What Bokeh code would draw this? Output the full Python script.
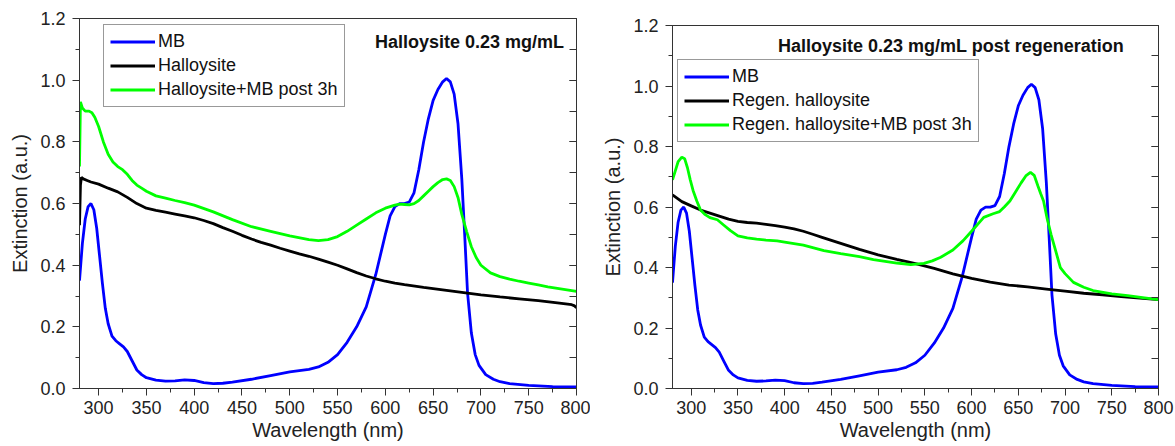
from bokeh.plotting import figure
from bokeh.layouts import row, column
from bokeh.models import (Legend, LegendItem, LinearAxis, SingleIntervalTicker,
                          NumeralTickFormatter, Label, Range1d, Spacer)
from bokeh.embed import file_html
from bokeh.resources import INLINE

FONT = "Liberation Sans"

# ---------------- data ----------------
mb_wl = [280, 283, 286, 289, 292, 295, 298, 301, 304, 307, 310, 314, 318, 322, 326,
         330, 335, 340, 345, 350, 360, 370, 380, 390, 400, 410, 420, 430, 440, 460,
         480, 500, 520, 530, 540, 550, 560, 570, 580, 590, 600, 605, 610, 615, 620,
         625, 630, 635, 640, 645, 650, 655, 660, 664, 668, 672, 676, 680, 683, 686,
         690, 694, 698, 705, 713, 720, 730, 750, 775, 800]
mb_ext = [0.35, 0.47, 0.55, 0.59, 0.60, 0.58, 0.52, 0.43, 0.34, 0.26, 0.21, 0.17, 0.155,
          0.145, 0.135, 0.12, 0.09, 0.06, 0.045, 0.035, 0.027, 0.024, 0.025, 0.028, 0.026,
          0.019, 0.016, 0.017, 0.021, 0.03, 0.042, 0.054, 0.062, 0.07, 0.085, 0.11, 0.15,
          0.2, 0.265, 0.37, 0.5, 0.56, 0.59, 0.6, 0.6, 0.605, 0.635, 0.71, 0.8, 0.875,
          0.935, 0.97, 0.995, 1.006, 0.995, 0.955, 0.86, 0.68, 0.5, 0.31, 0.18, 0.11,
          0.075, 0.045, 0.03, 0.022, 0.016, 0.01, 0.006, 0.005]

hal_wl = [280, 281, 282, 284, 288, 292, 300, 310, 320, 330, 340, 350, 360, 370, 380,
          390, 400, 410, 420, 430, 440, 450, 460, 470, 480, 490, 500, 510, 520, 530,
          540, 550, 560, 570, 580, 590, 600, 610, 620, 640, 660, 680, 700, 720, 740,
          760, 780, 795, 798, 800]
hal_ext = [0.53, 0.66, 0.685, 0.68, 0.675, 0.67, 0.663, 0.65, 0.638, 0.62, 0.6, 0.585,
           0.578, 0.572, 0.566, 0.56, 0.554, 0.545, 0.535, 0.522, 0.51, 0.497, 0.485,
           0.474, 0.465, 0.455, 0.446, 0.437, 0.429, 0.42, 0.41, 0.4, 0.388, 0.376,
           0.365, 0.356, 0.348, 0.342, 0.337, 0.328, 0.32, 0.312, 0.304, 0.297, 0.291,
           0.285, 0.278, 0.272, 0.268, 0.262]

halmb_wl = [280, 281, 283, 286, 290, 293, 296, 300, 305, 310, 315, 320, 325, 330, 335,
            340, 345, 350, 360, 370, 380, 390, 400, 420, 440, 460, 480, 500, 520, 530,
            540, 550, 560, 570, 580, 590, 600, 610, 615, 620, 625, 630, 635, 640, 645,
            650, 655, 660, 664, 668, 672, 676, 680, 685, 690, 695, 700, 710, 720, 730,
            740, 750, 760, 770, 780, 790, 800]
halmb_ext = [0.72, 0.93, 0.91, 0.90, 0.90, 0.895, 0.88, 0.85, 0.80, 0.76, 0.735, 0.72,
             0.71, 0.695, 0.675, 0.66, 0.65, 0.64, 0.625, 0.618, 0.61, 0.603, 0.595,
             0.573, 0.548, 0.525, 0.51, 0.495, 0.483, 0.48, 0.483, 0.493, 0.51, 0.53,
             0.55, 0.57, 0.585, 0.595, 0.598, 0.597, 0.596, 0.6, 0.61, 0.625, 0.64,
             0.655, 0.668, 0.678, 0.68, 0.675, 0.655, 0.62, 0.565, 0.51, 0.46, 0.425,
             0.40, 0.375, 0.363, 0.355, 0.348, 0.342, 0.336, 0.33, 0.325, 0.32, 0.315]

reg_wl = [280, 290, 300, 310, 320, 330, 340, 350, 360, 370, 380, 390, 400, 410, 420,
          430, 440, 450, 460, 470, 480, 490, 500, 520, 540, 560, 580, 600, 620, 640,
          660, 680, 700, 720, 740, 760, 780, 800]
reg_ext = [0.64, 0.618, 0.604, 0.59, 0.58, 0.57, 0.56, 0.553, 0.549, 0.547, 0.543,
           0.539, 0.534, 0.528, 0.52, 0.51, 0.5, 0.49, 0.48, 0.47, 0.46, 0.451, 0.442,
           0.427, 0.413, 0.397, 0.379, 0.364, 0.352, 0.342, 0.336, 0.329, 0.322, 0.315,
           0.31, 0.304, 0.299, 0.294]

regmb_wl = [280, 283, 286, 290, 293, 296, 299, 302, 306, 310, 315, 320, 328, 335, 342,
            350, 360, 370, 380, 392, 400, 420, 442, 460, 480, 495, 520, 535, 549, 558,
            567, 580, 591, 600, 610, 613, 623, 630, 635, 641, 647, 653, 658, 663, 667,
            671, 674, 677, 681, 685, 690, 695, 700, 709, 720, 730, 750, 767, 785, 800]
regmb_ext = [0.69, 0.72, 0.75, 0.765, 0.76, 0.73, 0.69, 0.655, 0.62, 0.59, 0.575, 0.565,
             0.558, 0.54, 0.522, 0.505, 0.498, 0.494, 0.491, 0.488, 0.484, 0.474, 0.456,
             0.446, 0.436, 0.426, 0.415, 0.41, 0.414, 0.422, 0.434, 0.458, 0.489, 0.52,
             0.555, 0.566, 0.578, 0.585, 0.6, 0.62, 0.65, 0.68, 0.703, 0.715, 0.705,
             0.67, 0.644, 0.62, 0.56, 0.51, 0.455, 0.40, 0.38, 0.351, 0.335, 0.324,
             0.313, 0.307, 0.3, 0.294]

x_label = "Wavelength (nm)"
y_label = "Extinction (a.u.)"
left_title = "Halloysite 0.23 mg/mL"
right_title = "Halloysite 0.23 mg/mL post regeneration"
left_names = ["MB", "Halloysite", "Halloysite+MB post 3h"]
right_names = ["MB", "Regen. halloysite", "Regen. halloysite+MB post 3h"]

BLUE = "#0000ff"
BLACK = "#000000"
GREEN = "#00ff00"
AX = "#333333"


def make_panel(width, height, bl, br, bt, bb, series, names, title, tx, ty, loc):
    p = figure(width=width, height=height, output_backend="svg", toolbar_location=None,
               x_range=Range1d(280, 800), y_range=Range1d(0, 1.2005),
               min_border_left=bl, min_border_right=br, min_border_top=bt,
               min_border_bottom=bb)
    p.grid.visible = False
    p.outline_line_color = AX
    p.outline_line_width = 1

    xa = p.xaxis[0]
    xa.ticker = SingleIntervalTicker(interval=50, num_minor_ticks=2)
    ya = p.yaxis[0]
    ya.ticker = SingleIntervalTicker(interval=0.2, num_minor_ticks=2)
    ya.formatter = NumeralTickFormatter(format="0.0")
    for ax in (xa, ya):
        ax.axis_line_color = AX
        ax.major_tick_line_color = AX
        ax.minor_tick_line_color = AX
        ax.major_tick_out = 7
        ax.major_tick_in = 0
        ax.minor_tick_out = 4
        ax.minor_tick_in = 0
        ax.major_label_text_font = FONT
        ax.major_label_text_font_size = "18px"
        ax.major_label_text_color = "#222222"
        ax.axis_label_text_font = FONT
        ax.axis_label_text_font_size = "20px"
        ax.axis_label_text_font_style = "normal"
        ax.axis_label_text_color = "#222222"
    xa.axis_label = x_label
    ya.axis_label = y_label
    xa.major_label_standoff = 5
    xa.axis_label_standoff = 2
    ya.major_label_standoff = 7
    ya.axis_label_standoff = 6

    ra = LinearAxis(ticker=SingleIntervalTicker(interval=0.2, num_minor_ticks=2),
                    major_label_text_font_size="1px", major_label_text_color=None,
                    major_label_standoff=0,
                    major_tick_in=7, major_tick_out=0, minor_tick_in=7, minor_tick_out=0,
                    axis_line_color=AX, major_tick_line_color=AX, minor_tick_line_color=AX)
    p.add_layout(ra, "right")

    items = []
    for (wl, ext, col), name in zip(series, names):
        r = p.line(wl, ext, line_color=col, line_width=2.8)
        items.append(LegendItem(label=name, renderers=[r]))

    leg = Legend(items=items, location=loc, margin=0, padding=6, spacing=3,
                 glyph_width=45, glyph_height=21, label_height=21, label_standoff=3,
                 label_text_font=FONT, label_text_font_size="18px",
                 label_text_color="#111111",
                 border_line_color=AX, border_line_width=1,
                 background_fill_color="white", background_fill_alpha=1)
    p.add_layout(leg)

    p.add_layout(Label(x=tx, y=ty, text=title, text_align="center",
                       text_baseline="middle", text_font=FONT, text_font_size="18px",
                       text_font_style="bold", text_color="#111111"))
    return p


left = make_panel(590, 446, 79, 14, 18, 58,
                  [(mb_wl, mb_ext, BLUE), (hal_wl, hal_ext, BLACK), (halmb_wl, halmb_ext, GREEN)],
                  left_names, left_title, 688, 1.125, (24, 281))
right = make_panel(585, 439, 82, 17, 18, 58,
                   [(mb_wl, mb_ext, BLUE), (reg_wl, reg_ext, BLACK), (regmb_wl, regmb_ext, GREEN)],
                   right_names, right_title, 578, 1.134, (5, 246))

layout = row(left, column(Spacer(width=585, height=7), right, spacing=0), spacing=0)
open("out.html", "w").write(file_html(layout, INLINE))
